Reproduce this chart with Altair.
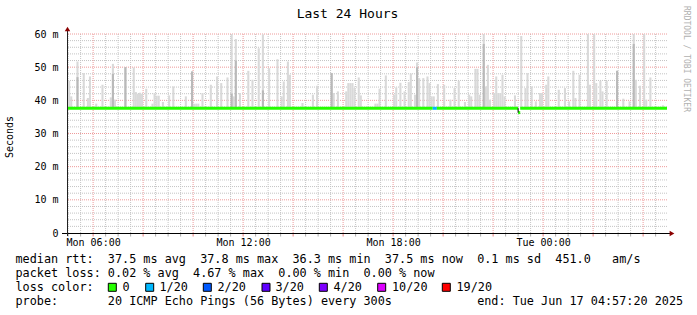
import altair as alt
import pandas as pd

MONO = "DejaVu Sans Mono"
NB = "\u00a0"

# time axis: minutes since Mon 00:00 ; window Mon 04:57:20 -> Tue 04:57:20
T0, T1 = 297.33, 1737.33
STEP = 5

# smoke (ping spread) per 5-minute step: start minute, top value (ms)
smoke_t = [300, 305, 320, 335, 345, 350, 365, 380, 400, 405, 410, 435, 455, 460, 465, 470, 475, 485, 500, 505,
           510, 515, 525, 540, 550, 580, 595, 600, 605, 610, 620, 640, 655,
           665, 680, 690, 695, 700, 710, 730, 740, 755, 765, 780, 800, 810, 815, 825, 830, 860, 885, 895, 930,
           935, 945, 965, 970, 975, 980, 985, 995,
           1000, 1035, 1040, 1045, 1060, 1080, 1085, 1095, 1105, 1115, 1120, 1130, 1135, 1140, 1150, 1160, 1165,
           1170, 1175, 1185, 1200, 1215, 1225, 1235, 1250, 1260, 1265, 1275, 1280, 1285, 1295, 1300, 1305, 1310,
           1320, 1325, 1330, 1335, 1340, 1345, 1370,
           1385, 1395, 1400, 1410, 1420, 1430, 1435, 1445, 1450, 1475, 1490, 1500, 1510, 1515, 1525, 1545, 1550,
           1560, 1565, 1575, 1580, 1590, 1615, 1630, 1645, 1655, 1660, 1670, 1680, 1685, 1695, 1725]
smoke_top = [45.9, 41.2, 51.7, 48.2, 40.7, 47.2, 39.0, 44.7, 40.9, 51.0, 40.2, 50.0, 49.9, 42.5, 42.0, 42.3, 42.0, 43.5, 39.0, 42.2,
             41.4, 41.4, 39.5, 41.5, 44.2, 41.2, 48.7, 39.0, 39.0, 39.0, 42.2, 44.7, 47.2,
             45.2, 46.9, 60.9, 41.2, 58.5, 42.2, 48.9, 46.2, 55.7, 59.9, 49.7, 52.4, 41.2, 45.7, 51.7, 47.7, 39.2, 41.7, 44.4, 48.2,
             42.2, 42.7, 42.7, 45.2, 45.2, 45.2, 43.7, 46.9,
             41.5, 39.0, 39.0, 43.5, 47.5, 41.7, 43.9, 45.3, 42.7, 45.5, 48.1, 41.7, 51.4, 46.7, 46.7, 47.2, 45.2,
             41.2, 41.2, 44.9, 44.7, 40.2, 43.7, 45.9, 39.5, 41.7, 41.2, 49.5, 49.5, 41.7, 60.2, 44.2, 50.7, 40.2,
             42.2, 47.2, 42.2, 42.2, 47.7, 41.2, 41.5,
             59.4, 43.7, 48.2, 44.2, 39.7, 42.2, 42.2, 44.7, 47.2, 43.2, 43.7, 39.7, 48.9, 40.7, 47.7, 60.2, 44.7,
             60.5, 45.2, 45.9, 42.7, 45.9, 48.9, 40.5, 39.7, 60.5, 46.2, 44.4, 60.2, 40.2, 46.9, 38.5]

# denser inner smoke
dark_t = [320, 405, 435, 595, 690, 700, 765, 930, 1135, 1295, 1615, 1655]
dark_top = [47.0, 48.0, 50.0, 48.7, 42.0, 52.0, 43.0, 48.2, 50.0, 57.0, 48.9, 57.0]

# median rtt segments
med_start = [297.33, 1175, 1185, 1380, 1385]
med_end = [1175, 1185, 1380, 1385, 1737.33]
med_val = [37.6, 37.6, 37.6, 36.3, 37.6]
med_color = ["#26ff00", "#00b8ff", "#26ff00", "#26ff00", "#26ff00"]
MED_BASE = 37.5

# axis labels
x_label_vals = [360, 720, 1080, 1440]
x_label_txt = ["Mon 06:00", "Mon 12:00", "Mon 18:00", "Tue 00:00"]
y_label_vals = [0, 10, 20, 30, 40, 50, 60]

# legend
loss_labels = ["0", "1/20", "2/20", "3/20", "4/20", "10/20", "19/20"]
loss_colors = ["#26ff00", "#00b8ff", "#0059ff", "#5e00ff", "#7e00ff", "#dd00ff", "#ff0000"]
loss_sq_x = [112.3, 149.7, 207.3, 266.0, 323.3, 381.7, 446.3]
loss_txt_x = [122.5, 159.5, 217.5, 275.5, 333.5, 392.0, 456.5]

row1 = "median rtt:  37.5 ms avg  37.8 ms max  36.3 ms min  37.5 ms now  0.1 ms sd  451.0   am/s"
row2 = "packet loss: 0.02 % avg  4.67 % max  0.00 % min  0.00 % now"
row3 = "loss color:"
row4 = "probe:       20 ICMP Echo Pings (56 Bytes) every 300s            end: Tue Jun 17 04:57:20 2025"

# ---------------------------------------------------------------
OX, OY = 67, 34
W, H = 600, 199

xs = alt.Scale(domain=[T0, T1], nice=False, zero=False)
ys = alt.Scale(domain=[0, 60], nice=False)

x_expr = " : ".join(f"datum.value == {v} ? '{t}'" for v, t in zip(x_label_vals, x_label_txt)) + " : ''"
y_expr = f"datum.value == 0 ? '0{NB}{NB}' : datum.value + '{NB}m'"

X_AX = alt.Axis(values=x_label_vals, labelExpr=x_expr, ticks=False, domain=False, grid=False,
                labelFont=MONO, labelFontSize=10, labelColor="black", labelPadding=4, title=None,
                labelFlush=False)
Y_AX = alt.Axis(values=y_label_vals, labelExpr=y_expr, ticks=False, domain=False, grid=False,
                labelFont=MONO, labelFontSize=10, labelColor="black", labelPadding=9, title=None)

smoke_df = pd.DataFrame({"t": smoke_t, "top": smoke_top})
dark_df = pd.DataFrame({"t": dark_t, "top": dark_top})
med_df = pd.DataFrame({"t": med_start, "t2": med_end, "v": med_val, "c": med_color})

minor_x = [m for m in range(300, 1740, 30) if m % 120 != 0]
major_x = [m for m in range(360, 1740, 120)]
minor_y = [v for v in range(2, 60, 2) if v % 10 != 0]
major_y = [10, 20, 30, 40, 50, 60]


def grid_x(vals, color):
    return alt.Chart(pd.DataFrame({"g": vals})).mark_rule(color=color, strokeDash=[1, 1], strokeWidth=1).encode(
        x=alt.X("g:Q", scale=xs, axis=X_AX))


def grid_y(vals, color):
    return alt.Chart(pd.DataFrame({"g": vals})).mark_rule(color=color, strokeDash=[1, 1], strokeWidth=1).encode(
        y=alt.Y("g:Q", scale=ys, axis=Y_AX))


def ticks_x(vals, color):
    return alt.Chart(pd.DataFrame({"g": vals})).mark_rule(color=color, strokeWidth=1).encode(
        x=alt.X("g:Q", scale=xs, axis=X_AX), y=alt.value(H + 0.5), y2=alt.value(H + 3.5))


one = alt.Data(values=[{}])


def txt(s, x, y, size=11.8, align="left", baseline="alphabetic", angle=0, color="black"):
    return alt.Chart(one).mark_text(text=s.replace(" ", NB), align=align, baseline=baseline, angle=angle,
                                    fontSize=size, font=MONO, color=color).encode(
        x=alt.value(x - OX), y=alt.value(y - OY))


smoke = alt.Chart(smoke_df).transform_calculate(t2=f"datum.t + {STEP}").mark_rect(color="#d9d9d9", clip=True).encode(
    x=alt.X("t:Q", scale=xs, axis=X_AX), x2="t2:Q",
    y=alt.Y("top:Q", scale=ys, axis=Y_AX), y2=alt.datum(MED_BASE))

dark = alt.Chart(dark_df).transform_calculate(t2=f"datum.t + {STEP}").mark_rect(color="#b9b9b9", clip=True).encode(
    x=alt.X("t:Q", scale=xs, axis=X_AX), x2="t2:Q",
    y=alt.Y("top:Q", scale=ys, axis=Y_AX), y2=alt.datum(MED_BASE))

median = alt.Chart(med_df).mark_rule(strokeWidth=3).encode(
    x=alt.X("t:Q", scale=xs, axis=X_AX), x2="t2:Q",
    y=alt.Y("v:Q", scale=ys, axis=Y_AX),
    color=alt.Color("c:N", scale=None))

dip_edge = alt.Chart(pd.DataFrame({"t": [med_end[2]], "a": [med_val[3]], "b": [med_val[2]]})).mark_rule(
    color="black", strokeWidth=1).encode(
    x=alt.X("t:Q", scale=xs, axis=X_AX), y=alt.Y("a:Q", scale=ys, axis=Y_AX), y2="b:Q")

x_axis_line = alt.Chart(one).mark_rule(color="black", strokeWidth=1).encode(
    x=alt.value(-5), x2=alt.value(W + 4), y=alt.value(H + 0.5))
y_axis_line = alt.Chart(one).mark_rule(color="#222222", strokeWidth=1).encode(
    x=alt.value(0.5), y=alt.value(H + 3), y2=alt.value(-4))
arrow_x = alt.Chart(one).mark_point(shape="triangle-right", filled=True, size=30, color="#8b0000", opacity=1).encode(
    x=alt.value(W + 5), y=alt.value(H + 0.5))
arrow_y = alt.Chart(one).mark_point(shape="triangle-up", filled=True, size=30, color="#8b0000", opacity=1).encode(
    x=alt.value(0.5), y=alt.value(-5))

layers = [
    grid_x(minor_x, "#c4c4c4"), grid_y(minor_y, "#c4c4c4"),
    grid_x(major_x, "#ee9a9a"), grid_y(major_y, "#ee9a9a"),
    smoke, dark, median, dip_edge,
    ticks_x(minor_x, "#aaaaaa"), ticks_x(major_x, "#ee8080"),
    x_axis_line, y_axis_line, arrow_x, arrow_y,
    txt("Last 24 Hours", 347.5, 14, size=13, align="center", baseline="middle"),
    txt("Seconds", 10, 137, size=10, align="center", baseline="middle", angle=270),
    txt("RRDTOOL / TOBI OETIKER", 686, 59, size=8, align="center", baseline="middle", angle=90, color="#b0b0b0"),
    txt(row1, 15.5, 263),
    txt(row2, 15.5, 277),
    txt(row3, 15.5, 291),
    txt(row4, 15.5, 305),
]

for sx, tx, lab, col in zip(loss_sq_x, loss_txt_x, loss_labels, loss_colors):
    layers.append(alt.Chart(one).mark_square(size=64, color=col, opacity=1, stroke="black", strokeWidth=1).encode(
        x=alt.value(sx - OX), y=alt.value(287.3 - OY)))
    layers.append(txt(lab, tx, 291))

chart = alt.layer(*layers).properties(
    width=W, height=H,
    padding={"left": OX, "top": OY, "right": 697 - OX - W, "bottom": 315 - OY - H},
    autosize=alt.AutoSizeParams(type="none"),
    background="white",
).configure_view(stroke=None)

chart.save("out.html", embed_options={"renderer": "svg", "actions": False})
